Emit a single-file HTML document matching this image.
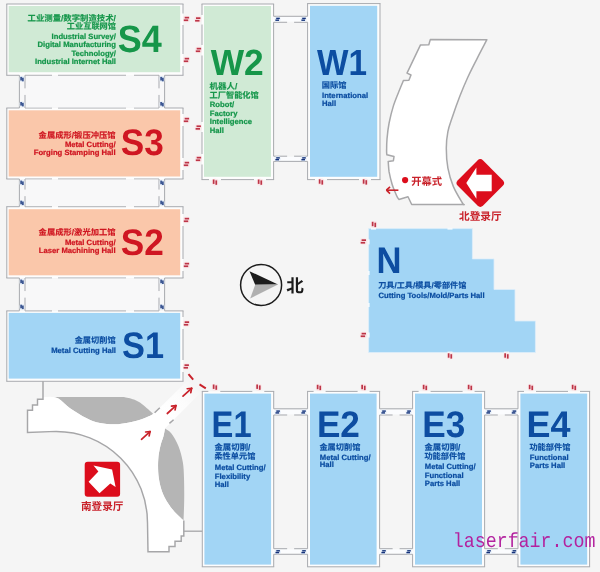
<!DOCTYPE html>
<html lang="zh"><head><meta charset="utf-8"><title>Exhibition hall floor plan</title>
<style>
html,body{margin:0;padding:0;background:#f5f5f5;overflow:hidden}
svg{display:block}
text{font-family:"Liberation Sans","Noto Sans CJK SC",sans-serif;font-weight:bold;text-rendering:geometricPrecision}
</style></head>
<body>
<svg width="600" height="572" viewBox="0 0 600 572">
<filter id="soft" x="-5%" y="-5%" width="110%" height="110%"><feGaussianBlur stdDeviation="0.55"/></filter>
<g filter="url(#soft)">
<rect x="-20" y="-20" width="640" height="612" fill="#f5f5f5"/>
<rect x="6.80" y="4.00" width="176.20" height="71.30" fill="#fdfdfd"/><rect x="8.70" y="6.00" width="171.50" height="66.20" fill="#d0ead5"/><line x1="6.33" y1="4.00" x2="183.47" y2="4.00" stroke="#a3a5ab" stroke-width="0.95" /><line x1="6.33" y1="75.30" x2="19.40" y2="75.30" stroke="#a3a5ab" stroke-width="0.95" /><line x1="25.00" y1="75.30" x2="52.00" y2="75.30" stroke="#a3a5ab" stroke-width="0.95" /><line x1="58.00" y1="75.30" x2="126.00" y2="75.30" stroke="#a3a5ab" stroke-width="0.95" /><line x1="134.00" y1="75.30" x2="159.00" y2="75.30" stroke="#a3a5ab" stroke-width="0.95" /><line x1="164.60" y1="75.30" x2="183.47" y2="75.30" stroke="#a3a5ab" stroke-width="0.95" /><line x1="6.80" y1="4.00" x2="6.80" y2="75.30" stroke="#a3a5ab" stroke-width="0.95" /><line x1="183.00" y1="4.00" x2="183.00" y2="13.50" stroke="#a3a5ab" stroke-width="0.95" /><line x1="183.00" y1="25.00" x2="183.00" y2="54.00" stroke="#a3a5ab" stroke-width="0.95" /><line x1="183.00" y1="66.00" x2="183.00" y2="75.30" stroke="#a3a5ab" stroke-width="0.95" />
<rect x="6.80" y="108.00" width="176.20" height="71.00" fill="#fdfdfd"/><rect x="8.70" y="110.30" width="171.50" height="66.20" fill="#fac7aa"/><line x1="6.33" y1="108.00" x2="19.40" y2="108.00" stroke="#a3a5ab" stroke-width="0.95" /><line x1="25.00" y1="108.00" x2="52.00" y2="108.00" stroke="#a3a5ab" stroke-width="0.95" /><line x1="58.00" y1="108.00" x2="126.00" y2="108.00" stroke="#a3a5ab" stroke-width="0.95" /><line x1="134.00" y1="108.00" x2="159.00" y2="108.00" stroke="#a3a5ab" stroke-width="0.95" /><line x1="164.60" y1="108.00" x2="183.47" y2="108.00" stroke="#a3a5ab" stroke-width="0.95" /><line x1="6.33" y1="179.00" x2="19.40" y2="179.00" stroke="#a3a5ab" stroke-width="0.95" /><line x1="25.00" y1="179.00" x2="52.00" y2="179.00" stroke="#a3a5ab" stroke-width="0.95" /><line x1="58.00" y1="179.00" x2="126.00" y2="179.00" stroke="#a3a5ab" stroke-width="0.95" /><line x1="134.00" y1="179.00" x2="159.00" y2="179.00" stroke="#a3a5ab" stroke-width="0.95" /><line x1="164.60" y1="179.00" x2="183.47" y2="179.00" stroke="#a3a5ab" stroke-width="0.95" /><line x1="6.80" y1="108.00" x2="6.80" y2="179.00" stroke="#a3a5ab" stroke-width="0.95" /><line x1="183.00" y1="108.00" x2="183.00" y2="114.00" stroke="#a3a5ab" stroke-width="0.95" /><line x1="183.00" y1="126.00" x2="183.00" y2="158.00" stroke="#a3a5ab" stroke-width="0.95" /><line x1="183.00" y1="170.00" x2="183.00" y2="179.00" stroke="#a3a5ab" stroke-width="0.95" />
<rect x="6.80" y="206.70" width="176.20" height="71.30" fill="#fdfdfd"/><rect x="8.70" y="209.20" width="171.50" height="66.10" fill="#fac7aa"/><line x1="6.33" y1="206.70" x2="19.40" y2="206.70" stroke="#a3a5ab" stroke-width="0.95" /><line x1="25.00" y1="206.70" x2="52.00" y2="206.70" stroke="#a3a5ab" stroke-width="0.95" /><line x1="58.00" y1="206.70" x2="126.00" y2="206.70" stroke="#a3a5ab" stroke-width="0.95" /><line x1="134.00" y1="206.70" x2="159.00" y2="206.70" stroke="#a3a5ab" stroke-width="0.95" /><line x1="164.60" y1="206.70" x2="183.47" y2="206.70" stroke="#a3a5ab" stroke-width="0.95" /><line x1="6.33" y1="278.00" x2="19.40" y2="278.00" stroke="#a3a5ab" stroke-width="0.95" /><line x1="25.00" y1="278.00" x2="52.00" y2="278.00" stroke="#a3a5ab" stroke-width="0.95" /><line x1="58.00" y1="278.00" x2="126.00" y2="278.00" stroke="#a3a5ab" stroke-width="0.95" /><line x1="134.00" y1="278.00" x2="159.00" y2="278.00" stroke="#a3a5ab" stroke-width="0.95" /><line x1="164.60" y1="278.00" x2="183.47" y2="278.00" stroke="#a3a5ab" stroke-width="0.95" /><line x1="6.80" y1="206.70" x2="6.80" y2="278.00" stroke="#a3a5ab" stroke-width="0.95" /><line x1="183.00" y1="206.70" x2="183.00" y2="214.00" stroke="#a3a5ab" stroke-width="0.95" /><line x1="183.00" y1="226.00" x2="183.00" y2="259.00" stroke="#a3a5ab" stroke-width="0.95" /><line x1="183.00" y1="271.00" x2="183.00" y2="278.00" stroke="#a3a5ab" stroke-width="0.95" />
<rect x="6.80" y="310.90" width="176.20" height="70.40" fill="#fdfdfd"/><rect x="8.70" y="312.90" width="171.50" height="65.70" fill="#a2d5f5"/><line x1="6.33" y1="310.90" x2="19.40" y2="310.90" stroke="#a3a5ab" stroke-width="0.95" /><line x1="25.00" y1="310.90" x2="52.00" y2="310.90" stroke="#a3a5ab" stroke-width="0.95" /><line x1="58.00" y1="310.90" x2="126.00" y2="310.90" stroke="#a3a5ab" stroke-width="0.95" /><line x1="134.00" y1="310.90" x2="159.00" y2="310.90" stroke="#a3a5ab" stroke-width="0.95" /><line x1="164.60" y1="310.90" x2="183.47" y2="310.90" stroke="#a3a5ab" stroke-width="0.95" /><line x1="6.33" y1="381.30" x2="183.47" y2="381.30" stroke="#a3a5ab" stroke-width="0.95" /><line x1="6.80" y1="310.90" x2="6.80" y2="381.30" stroke="#a3a5ab" stroke-width="0.95" /><line x1="183.00" y1="310.90" x2="183.00" y2="317.00" stroke="#a3a5ab" stroke-width="0.95" /><line x1="183.00" y1="329.00" x2="183.00" y2="360.00" stroke="#a3a5ab" stroke-width="0.95" /><line x1="183.00" y1="372.00" x2="183.00" y2="381.30" stroke="#a3a5ab" stroke-width="0.95" />
<rect x="19.4" y="75.90" width="145.2" height="31.50" fill="#f8f8f9"/>
<line x1="19.40" y1="75.30" x2="19.40" y2="108.00" stroke="#a3a5ab" stroke-width="0.95" />
<line x1="164.60" y1="75.30" x2="164.60" y2="108.00" stroke="#a3a5ab" stroke-width="0.95" />
<line x1="25.00" y1="75.30" x2="25.00" y2="88.35" stroke="#a3a5ab" stroke-width="0.95" /><line x1="25.00" y1="94.95" x2="25.00" y2="108.00" stroke="#a3a5ab" stroke-width="0.95" />
<line x1="159.00" y1="75.30" x2="159.00" y2="88.35" stroke="#a3a5ab" stroke-width="0.95" /><line x1="159.00" y1="94.95" x2="159.00" y2="108.00" stroke="#a3a5ab" stroke-width="0.95" />
<rect x="19.50" y="76.10" width="5" height="6" rx="2" fill="#e6eef8"/><g fill="#15337a"><rect x="20.40" y="76.90" width="1.4" height="3.6"/><rect x="22.20" y="77.70" width="1.4" height="3.6"/></g>
<rect x="19.50" y="101.20" width="5" height="6" rx="2" fill="#e6eef8"/><g fill="#15337a"><rect x="20.40" y="102.00" width="1.4" height="3.6"/><rect x="22.20" y="102.80" width="1.4" height="3.6"/></g>
<rect x="159.50" y="76.10" width="5" height="6" rx="2" fill="#e6eef8"/><g fill="#15337a"><rect x="160.40" y="76.90" width="1.4" height="3.6"/><rect x="162.20" y="77.70" width="1.4" height="3.6"/></g>
<rect x="159.50" y="101.20" width="5" height="6" rx="2" fill="#e6eef8"/><g fill="#15337a"><rect x="160.40" y="102.00" width="1.4" height="3.6"/><rect x="162.20" y="102.80" width="1.4" height="3.6"/></g>
<rect x="19.4" y="179.60" width="145.2" height="26.50" fill="#f8f8f9"/>
<line x1="19.40" y1="179.00" x2="19.40" y2="206.70" stroke="#a3a5ab" stroke-width="0.95" />
<line x1="164.60" y1="179.00" x2="164.60" y2="206.70" stroke="#a3a5ab" stroke-width="0.95" />
<line x1="25.00" y1="179.00" x2="25.00" y2="189.55" stroke="#a3a5ab" stroke-width="0.95" /><line x1="25.00" y1="196.15" x2="25.00" y2="206.70" stroke="#a3a5ab" stroke-width="0.95" />
<line x1="159.00" y1="179.00" x2="159.00" y2="189.55" stroke="#a3a5ab" stroke-width="0.95" /><line x1="159.00" y1="196.15" x2="159.00" y2="206.70" stroke="#a3a5ab" stroke-width="0.95" />
<rect x="19.50" y="179.80" width="5" height="6" rx="2" fill="#e6eef8"/><g fill="#15337a"><rect x="20.40" y="180.60" width="1.4" height="3.6"/><rect x="22.20" y="181.40" width="1.4" height="3.6"/></g>
<rect x="19.50" y="199.90" width="5" height="6" rx="2" fill="#e6eef8"/><g fill="#15337a"><rect x="20.40" y="200.70" width="1.4" height="3.6"/><rect x="22.20" y="201.50" width="1.4" height="3.6"/></g>
<rect x="159.50" y="179.80" width="5" height="6" rx="2" fill="#e6eef8"/><g fill="#15337a"><rect x="160.40" y="180.60" width="1.4" height="3.6"/><rect x="162.20" y="181.40" width="1.4" height="3.6"/></g>
<rect x="159.50" y="199.90" width="5" height="6" rx="2" fill="#e6eef8"/><g fill="#15337a"><rect x="160.40" y="200.70" width="1.4" height="3.6"/><rect x="162.20" y="201.50" width="1.4" height="3.6"/></g>
<rect x="19.4" y="278.60" width="145.2" height="31.50" fill="#f8f8f9"/>
<line x1="19.40" y1="278.00" x2="19.40" y2="310.70" stroke="#a3a5ab" stroke-width="0.95" />
<line x1="164.60" y1="278.00" x2="164.60" y2="310.70" stroke="#a3a5ab" stroke-width="0.95" />
<line x1="25.00" y1="278.00" x2="25.00" y2="291.05" stroke="#a3a5ab" stroke-width="0.95" /><line x1="25.00" y1="297.65" x2="25.00" y2="310.70" stroke="#a3a5ab" stroke-width="0.95" />
<line x1="159.00" y1="278.00" x2="159.00" y2="291.05" stroke="#a3a5ab" stroke-width="0.95" /><line x1="159.00" y1="297.65" x2="159.00" y2="310.70" stroke="#a3a5ab" stroke-width="0.95" />
<rect x="19.50" y="278.80" width="5" height="6" rx="2" fill="#e6eef8"/><g fill="#15337a"><rect x="20.40" y="279.60" width="1.4" height="3.6"/><rect x="22.20" y="280.40" width="1.4" height="3.6"/></g>
<rect x="19.50" y="303.90" width="5" height="6" rx="2" fill="#e6eef8"/><g fill="#15337a"><rect x="20.40" y="304.70" width="1.4" height="3.6"/><rect x="22.20" y="305.50" width="1.4" height="3.6"/></g>
<rect x="159.50" y="278.80" width="5" height="6" rx="2" fill="#e6eef8"/><g fill="#15337a"><rect x="160.40" y="279.60" width="1.4" height="3.6"/><rect x="162.20" y="280.40" width="1.4" height="3.6"/></g>
<rect x="159.50" y="303.90" width="5" height="6" rx="2" fill="#e6eef8"/><g fill="#15337a"><rect x="160.40" y="304.70" width="1.4" height="3.6"/><rect x="162.20" y="305.50" width="1.4" height="3.6"/></g>
<rect x="202.00" y="4.00" width="71.60" height="175.60" fill="#fdfdfd"/><rect x="204.00" y="6.00" width="67.00" height="170.80" fill="#d0ead5"/><line x1="201.53" y1="4.00" x2="274.08" y2="4.00" stroke="#a3a5ab" stroke-width="0.95" /><line x1="201.53" y1="179.60" x2="209.00" y2="179.60" stroke="#a3a5ab" stroke-width="0.95" /><line x1="221.00" y1="179.60" x2="254.00" y2="179.60" stroke="#a3a5ab" stroke-width="0.95" /><line x1="266.00" y1="179.60" x2="274.08" y2="179.60" stroke="#a3a5ab" stroke-width="0.95" /><line x1="202.00" y1="4.00" x2="202.00" y2="15.00" stroke="#a3a5ab" stroke-width="0.95" /><line x1="202.00" y1="24.50" x2="202.00" y2="45.00" stroke="#a3a5ab" stroke-width="0.95" /><line x1="202.00" y1="55.50" x2="202.00" y2="122.00" stroke="#a3a5ab" stroke-width="0.95" /><line x1="202.00" y1="132.00" x2="202.00" y2="154.00" stroke="#a3a5ab" stroke-width="0.95" /><line x1="202.00" y1="164.50" x2="202.00" y2="179.60" stroke="#a3a5ab" stroke-width="0.95" /><line x1="273.60" y1="4.00" x2="273.60" y2="16.30" stroke="#a3a5ab" stroke-width="0.95" /><line x1="273.60" y1="22.30" x2="273.60" y2="156.20" stroke="#a3a5ab" stroke-width="0.95" /><line x1="273.60" y1="161.40" x2="273.60" y2="179.60" stroke="#a3a5ab" stroke-width="0.95" />
<rect x="307.60" y="3.60" width="72.40" height="176.00" fill="#fdfdfd"/><rect x="310.00" y="5.80" width="67.20" height="171.00" fill="#a2d5f5"/><line x1="307.12" y1="3.60" x2="380.48" y2="3.60" stroke="#a3a5ab" stroke-width="0.95" /><line x1="307.12" y1="179.60" x2="315.00" y2="179.60" stroke="#a3a5ab" stroke-width="0.95" /><line x1="327.00" y1="179.60" x2="359.00" y2="179.60" stroke="#a3a5ab" stroke-width="0.95" /><line x1="371.00" y1="179.60" x2="380.48" y2="179.60" stroke="#a3a5ab" stroke-width="0.95" /><line x1="307.60" y1="3.60" x2="307.60" y2="16.30" stroke="#a3a5ab" stroke-width="0.95" /><line x1="307.60" y1="22.30" x2="307.60" y2="156.20" stroke="#a3a5ab" stroke-width="0.95" /><line x1="307.60" y1="161.40" x2="307.60" y2="179.60" stroke="#a3a5ab" stroke-width="0.95" /><line x1="380.00" y1="3.60" x2="380.00" y2="179.60" stroke="#a3a5ab" stroke-width="0.95" />
<rect x="202.30" y="391.40" width="71.40" height="175.40" fill="#fdfdfd"/><rect x="204.40" y="393.60" width="66.70" height="171.00" fill="#a2d5f5"/><line x1="201.83" y1="391.40" x2="208.30" y2="391.40" stroke="#a3a5ab" stroke-width="0.95" /><line x1="220.30" y1="391.40" x2="252.30" y2="391.40" stroke="#a3a5ab" stroke-width="0.95" /><line x1="264.30" y1="391.40" x2="274.18" y2="391.40" stroke="#a3a5ab" stroke-width="0.95" /><line x1="201.83" y1="566.80" x2="274.18" y2="566.80" stroke="#a3a5ab" stroke-width="0.95" /><line x1="202.30" y1="391.40" x2="202.30" y2="566.80" stroke="#a3a5ab" stroke-width="0.95" /><line x1="273.70" y1="391.40" x2="273.70" y2="408.80" stroke="#a3a5ab" stroke-width="0.95" /><line x1="273.70" y1="415.00" x2="273.70" y2="548.70" stroke="#a3a5ab" stroke-width="0.95" /><line x1="273.70" y1="554.30" x2="273.70" y2="566.80" stroke="#a3a5ab" stroke-width="0.95" />
<rect x="307.60" y="391.40" width="72.00" height="175.40" fill="#fdfdfd"/><rect x="310.00" y="393.60" width="66.60" height="171.00" fill="#a2d5f5"/><line x1="307.12" y1="391.40" x2="313.60" y2="391.40" stroke="#a3a5ab" stroke-width="0.95" /><line x1="325.60" y1="391.40" x2="357.60" y2="391.40" stroke="#a3a5ab" stroke-width="0.95" /><line x1="369.60" y1="391.40" x2="380.08" y2="391.40" stroke="#a3a5ab" stroke-width="0.95" /><line x1="307.12" y1="566.80" x2="380.08" y2="566.80" stroke="#a3a5ab" stroke-width="0.95" /><line x1="307.60" y1="391.40" x2="307.60" y2="408.80" stroke="#a3a5ab" stroke-width="0.95" /><line x1="307.60" y1="415.00" x2="307.60" y2="548.70" stroke="#a3a5ab" stroke-width="0.95" /><line x1="307.60" y1="554.30" x2="307.60" y2="566.80" stroke="#a3a5ab" stroke-width="0.95" /><line x1="379.60" y1="391.40" x2="379.60" y2="408.80" stroke="#a3a5ab" stroke-width="0.95" /><line x1="379.60" y1="415.00" x2="379.60" y2="548.70" stroke="#a3a5ab" stroke-width="0.95" /><line x1="379.60" y1="554.30" x2="379.60" y2="566.80" stroke="#a3a5ab" stroke-width="0.95" />
<rect x="412.60" y="391.40" width="72.00" height="175.40" fill="#fdfdfd"/><rect x="415.00" y="393.60" width="67.00" height="171.00" fill="#a2d5f5"/><line x1="412.12" y1="391.40" x2="418.60" y2="391.40" stroke="#a3a5ab" stroke-width="0.95" /><line x1="430.60" y1="391.40" x2="462.60" y2="391.40" stroke="#a3a5ab" stroke-width="0.95" /><line x1="474.60" y1="391.40" x2="485.08" y2="391.40" stroke="#a3a5ab" stroke-width="0.95" /><line x1="412.12" y1="566.80" x2="485.08" y2="566.80" stroke="#a3a5ab" stroke-width="0.95" /><line x1="412.60" y1="391.40" x2="412.60" y2="408.80" stroke="#a3a5ab" stroke-width="0.95" /><line x1="412.60" y1="415.00" x2="412.60" y2="548.70" stroke="#a3a5ab" stroke-width="0.95" /><line x1="412.60" y1="554.30" x2="412.60" y2="566.80" stroke="#a3a5ab" stroke-width="0.95" /><line x1="484.60" y1="391.40" x2="484.60" y2="408.80" stroke="#a3a5ab" stroke-width="0.95" /><line x1="484.60" y1="415.00" x2="484.60" y2="548.70" stroke="#a3a5ab" stroke-width="0.95" /><line x1="484.60" y1="554.30" x2="484.60" y2="566.80" stroke="#a3a5ab" stroke-width="0.95" />
<rect x="518.00" y="391.40" width="71.60" height="175.40" fill="#fdfdfd"/><rect x="520.40" y="393.60" width="66.80" height="171.00" fill="#a2d5f5"/><line x1="517.52" y1="391.40" x2="524.00" y2="391.40" stroke="#a3a5ab" stroke-width="0.95" /><line x1="536.00" y1="391.40" x2="568.00" y2="391.40" stroke="#a3a5ab" stroke-width="0.95" /><line x1="580.00" y1="391.40" x2="590.08" y2="391.40" stroke="#a3a5ab" stroke-width="0.95" /><line x1="517.52" y1="566.80" x2="590.08" y2="566.80" stroke="#a3a5ab" stroke-width="0.95" /><line x1="518.00" y1="391.40" x2="518.00" y2="408.80" stroke="#a3a5ab" stroke-width="0.95" /><line x1="518.00" y1="415.00" x2="518.00" y2="548.70" stroke="#a3a5ab" stroke-width="0.95" /><line x1="518.00" y1="554.30" x2="518.00" y2="566.80" stroke="#a3a5ab" stroke-width="0.95" /><line x1="589.60" y1="391.40" x2="589.60" y2="566.80" stroke="#a3a5ab" stroke-width="0.95" />
<rect x="271.60" y="16.90" width="38.00" height="4.80" fill="#fbfcfe"/><line x1="273.60" y1="16.30" x2="307.60" y2="16.30" stroke="#a3a5ab" stroke-width="0.95" /><line x1="273.60" y1="22.30" x2="287.10" y2="22.30" stroke="#a3a5ab" stroke-width="0.95" /><line x1="294.10" y1="22.30" x2="307.60" y2="22.30" stroke="#a3a5ab" stroke-width="0.95" /><rect x="274.60" y="16.80" width="6" height="5" rx="2" fill="#e6eef8"/><g fill="#15337a"><rect x="276.20" y="17.70" width="3.6" height="1.4"/><rect x="275.40" y="19.50" width="3.6" height="1.4"/></g><rect x="300.60" y="16.80" width="6" height="5" rx="2" fill="#e6eef8"/><g fill="#15337a"><rect x="302.20" y="17.70" width="3.6" height="1.4"/><rect x="301.40" y="19.50" width="3.6" height="1.4"/></g>
<rect x="271.60" y="156.80" width="38.00" height="4.00" fill="#fbfcfe"/><line x1="273.60" y1="161.40" x2="307.60" y2="161.40" stroke="#a3a5ab" stroke-width="0.95" /><line x1="273.60" y1="156.20" x2="287.10" y2="156.20" stroke="#a3a5ab" stroke-width="0.95" /><line x1="294.10" y1="156.20" x2="307.60" y2="156.20" stroke="#a3a5ab" stroke-width="0.95" /><rect x="274.60" y="156.30" width="6" height="5" rx="2" fill="#e6eef8"/><g fill="#15337a"><rect x="276.20" y="157.20" width="3.6" height="1.4"/><rect x="275.40" y="159.00" width="3.6" height="1.4"/></g><rect x="300.60" y="156.30" width="6" height="5" rx="2" fill="#e6eef8"/><g fill="#15337a"><rect x="302.20" y="157.20" width="3.6" height="1.4"/><rect x="301.40" y="159.00" width="3.6" height="1.4"/></g>
<rect x="271.70" y="409.40" width="37.90" height="5.00" fill="#fbfcfe"/><line x1="273.70" y1="408.80" x2="307.60" y2="408.80" stroke="#a3a5ab" stroke-width="0.95" /><line x1="273.70" y1="415.00" x2="287.15" y2="415.00" stroke="#a3a5ab" stroke-width="0.95" /><line x1="294.15" y1="415.00" x2="307.60" y2="415.00" stroke="#a3a5ab" stroke-width="0.95" /><rect x="274.70" y="409.50" width="6" height="5" rx="2" fill="#e6eef8"/><g fill="#15337a"><rect x="276.30" y="410.40" width="3.6" height="1.4"/><rect x="275.50" y="412.20" width="3.6" height="1.4"/></g><rect x="300.60" y="409.50" width="6" height="5" rx="2" fill="#e6eef8"/><g fill="#15337a"><rect x="302.20" y="410.40" width="3.6" height="1.4"/><rect x="301.40" y="412.20" width="3.6" height="1.4"/></g>
<rect x="271.70" y="549.30" width="37.90" height="4.40" fill="#fbfcfe"/><line x1="273.70" y1="554.30" x2="307.60" y2="554.30" stroke="#a3a5ab" stroke-width="0.95" /><line x1="273.70" y1="548.70" x2="287.15" y2="548.70" stroke="#a3a5ab" stroke-width="0.95" /><line x1="294.15" y1="548.70" x2="307.60" y2="548.70" stroke="#a3a5ab" stroke-width="0.95" /><rect x="274.70" y="549.20" width="6" height="5" rx="2" fill="#e6eef8"/><g fill="#15337a"><rect x="276.30" y="550.10" width="3.6" height="1.4"/><rect x="275.50" y="551.90" width="3.6" height="1.4"/></g><rect x="300.60" y="549.20" width="6" height="5" rx="2" fill="#e6eef8"/><g fill="#15337a"><rect x="302.20" y="550.10" width="3.6" height="1.4"/><rect x="301.40" y="551.90" width="3.6" height="1.4"/></g>
<rect x="377.60" y="409.40" width="37.00" height="5.00" fill="#fbfcfe"/><line x1="379.60" y1="408.80" x2="412.60" y2="408.80" stroke="#a3a5ab" stroke-width="0.95" /><line x1="379.60" y1="415.00" x2="392.60" y2="415.00" stroke="#a3a5ab" stroke-width="0.95" /><line x1="399.60" y1="415.00" x2="412.60" y2="415.00" stroke="#a3a5ab" stroke-width="0.95" /><rect x="380.60" y="409.50" width="6" height="5" rx="2" fill="#e6eef8"/><g fill="#15337a"><rect x="382.20" y="410.40" width="3.6" height="1.4"/><rect x="381.40" y="412.20" width="3.6" height="1.4"/></g><rect x="405.60" y="409.50" width="6" height="5" rx="2" fill="#e6eef8"/><g fill="#15337a"><rect x="407.20" y="410.40" width="3.6" height="1.4"/><rect x="406.40" y="412.20" width="3.6" height="1.4"/></g>
<rect x="377.60" y="549.30" width="37.00" height="4.40" fill="#fbfcfe"/><line x1="379.60" y1="554.30" x2="412.60" y2="554.30" stroke="#a3a5ab" stroke-width="0.95" /><line x1="379.60" y1="548.70" x2="392.60" y2="548.70" stroke="#a3a5ab" stroke-width="0.95" /><line x1="399.60" y1="548.70" x2="412.60" y2="548.70" stroke="#a3a5ab" stroke-width="0.95" /><rect x="380.60" y="549.20" width="6" height="5" rx="2" fill="#e6eef8"/><g fill="#15337a"><rect x="382.20" y="550.10" width="3.6" height="1.4"/><rect x="381.40" y="551.90" width="3.6" height="1.4"/></g><rect x="405.60" y="549.20" width="6" height="5" rx="2" fill="#e6eef8"/><g fill="#15337a"><rect x="407.20" y="550.10" width="3.6" height="1.4"/><rect x="406.40" y="551.90" width="3.6" height="1.4"/></g>
<rect x="482.60" y="409.40" width="37.40" height="5.00" fill="#fbfcfe"/><line x1="484.60" y1="408.80" x2="518.00" y2="408.80" stroke="#a3a5ab" stroke-width="0.95" /><line x1="484.60" y1="415.00" x2="497.80" y2="415.00" stroke="#a3a5ab" stroke-width="0.95" /><line x1="504.80" y1="415.00" x2="518.00" y2="415.00" stroke="#a3a5ab" stroke-width="0.95" /><rect x="485.60" y="409.50" width="6" height="5" rx="2" fill="#e6eef8"/><g fill="#15337a"><rect x="487.20" y="410.40" width="3.6" height="1.4"/><rect x="486.40" y="412.20" width="3.6" height="1.4"/></g><rect x="511.00" y="409.50" width="6" height="5" rx="2" fill="#e6eef8"/><g fill="#15337a"><rect x="512.60" y="410.40" width="3.6" height="1.4"/><rect x="511.80" y="412.20" width="3.6" height="1.4"/></g>
<rect x="482.60" y="549.30" width="37.40" height="4.40" fill="#fbfcfe"/><line x1="484.60" y1="554.30" x2="518.00" y2="554.30" stroke="#a3a5ab" stroke-width="0.95" /><line x1="484.60" y1="548.70" x2="497.80" y2="548.70" stroke="#a3a5ab" stroke-width="0.95" /><line x1="504.80" y1="548.70" x2="518.00" y2="548.70" stroke="#a3a5ab" stroke-width="0.95" /><rect x="485.60" y="549.20" width="6" height="5" rx="2" fill="#e6eef8"/><g fill="#15337a"><rect x="487.20" y="550.10" width="3.6" height="1.4"/><rect x="486.40" y="551.90" width="3.6" height="1.4"/></g><rect x="511.00" y="549.20" width="6" height="5" rx="2" fill="#e6eef8"/><g fill="#15337a"><rect x="512.60" y="550.10" width="3.6" height="1.4"/><rect x="511.80" y="551.90" width="3.6" height="1.4"/></g>
<path d="M368.6 228.6H472.4V258.9H494V289.5H515V321H535.4V352.5H368.6Z" fill="#a2d5f5" stroke="#ddeefa" stroke-width="0.8"/>
<rect x="447.5" y="227.8" width="5.0" height="1.8" fill="#f4fafe"/>
<rect x="371.0" y="227.8" width="5.0" height="1.8" fill="#f4fafe"/>
<rect x="367.8" y="239.4" width="1.8" height="5.0" fill="#f4fafe"/>
<rect x="367.8" y="332.5" width="1.8" height="5.0" fill="#f4fafe"/>
<rect x="447.5" y="351.6" width="5.0" height="1.8" fill="#f4fafe"/>
<rect x="504.0" y="351.6" width="5.0" height="1.8" fill="#f4fafe"/>
<rect x="367.8" y="271.0" width="1.8" height="4.0" fill="#f4fafe"/>
<rect x="367.8" y="303.0" width="1.8" height="4.0" fill="#f4fafe"/>
<path d="M430.3 39.6 L486.9 39.7 C485.3 42.8 480.4 52.0 477.2 58.3 C474.0 64.5 470.7 70.9 467.8 77.2 C464.9 83.5 462.5 89.4 459.9 96.1 C457.3 102.8 454.2 111.6 452.2 117.5 C450.2 123.4 448.9 126.5 447.9 131.6 C446.9 136.7 446.3 142.1 446.3 148.2 C446.3 154.3 446.7 161.8 447.9 168.2 C449.1 174.6 450.9 180.6 453.3 186.4 C455.7 192.2 460.6 200.0 462.4 203.0 C464.2 206.0 463.9 204.2 464.2 204.5 L411.7 204.5 L408 196.7 L398.9 199.5 C398.5 198.8 397.5 197.8 396.4 195.2 C395.3 192.6 393.3 188.1 392.1 184.2 C390.9 180.3 389.8 175.7 389.1 171.9 C388.5 168.1 388.4 163.2 388.2 161.5 L393.4 160.7 L394 156.6 L386.9 154.8 C386.8 154.2 386.6 153.8 386.6 151.2 C386.6 148.6 386.6 143.7 387.0 139.0 C387.4 134.3 388.0 128.5 389.1 123.0 C390.2 117.5 391.7 111.4 393.4 105.9 C395.1 100.4 397.8 94.2 399.5 90.0 C401.2 85.8 402.8 82.0 403.4 80.4 L408.9 80.2 L411 75 L407 73.1 L420.5 44.9 L428.8 44.7 Z" fill="#ffffff" stroke="#a8a8aa" stroke-width="1.5" stroke-linejoin="round"/>
<path d="M50.0 396.8 C51.4 397.1 55.0 396.7 58.3 398.6 C61.6 400.5 65.3 405.0 70.0 408.3 C74.7 411.6 81.7 415.9 86.7 418.3 C91.7 420.8 94.7 422.0 100.0 423.0 C105.3 424.0 112.2 424.6 118.3 424.2 C124.4 423.8 131.8 422.0 136.7 420.8 C141.6 419.6 144.9 418.0 147.7 416.8 C150.4 415.6 152.3 414.4 153.2 413.9 L153.2 413.9 C151.4 412.3 145.4 406.7 142.2 404.3 C139.0 401.9 137.0 400.8 134.0 399.6 C131.0 398.4 125.7 397.4 124.0 397.0 L50 396.8 Z" fill="#b5b5b5"/>
<path d="M165.0 428.5 C164.7 429.8 164.2 433.6 163.4 436.5 C162.6 439.4 161.3 442.1 160.4 446.0 C159.5 449.9 158.5 454.7 158.2 460.0 C157.9 465.3 158.0 472.3 158.8 478.0 C159.6 483.7 161.0 489.2 163.0 494.0 C165.0 498.8 168.0 503.4 170.6 507.0 C173.2 510.6 176.3 513.5 178.5 515.8 C180.7 518.1 182.8 519.8 183.6 520.6 L183.6 520.6 C183.7 517.2 184.1 507.1 184.2 500.0 C184.3 492.9 184.2 484.3 184.0 478.0 C183.8 471.7 183.7 467.3 182.8 462.0 C181.9 456.7 180.3 450.8 178.4 446.0 C176.5 441.2 173.6 436.3 171.4 433.4 C169.2 430.5 166.1 429.3 165.0 428.5 Z" fill="#b5b5b5"/>
<linearGradient id="cg" gradientUnits="userSpaceOnUse" x1="166" y1="414" x2="194" y2="386"><stop offset="0" stop-color="#ffffff"/><stop offset="0.55" stop-color="#fcfcfc"/><stop offset="1" stop-color="#f6f6f6"/></linearGradient>
<path d="M159.6 408 L187.6 380.4 L200.4 393 L173.4 420 Z" fill="url(#cg)"/>
<path d="M43 397.2 L50 396.8 L50.0 396.8 C51.4 397.1 55.0 396.7 58.3 398.6 C61.6 400.5 65.3 405.0 70.0 408.3 C74.7 411.6 81.7 415.9 86.7 418.3 C91.7 420.8 94.7 422.0 100.0 423.0 C105.3 424.0 112.2 424.6 118.3 424.2 C124.4 423.8 131.8 422.0 136.7 420.8 C141.6 419.6 144.9 418.0 147.7 416.8 C150.4 415.6 152.3 414.4 153.2 413.9 L159.6 408 L173.4 420 L165.0 428.5 C164.7 429.8 164.2 433.6 163.4 436.5 C162.6 439.4 161.3 442.1 160.4 446.0 C159.5 449.9 158.5 454.7 158.2 460.0 C157.9 465.3 158.0 472.3 158.8 478.0 C159.6 483.7 161.0 489.2 163.0 494.0 C165.0 498.8 168.0 503.4 170.6 507.0 C173.2 510.6 176.3 513.5 178.5 515.8 C180.7 518.1 182.8 519.8 183.6 520.6 L183.8 536 H181.2 V541.3 H175 V546.5 H169 V551.8 H148 V522.7 A91.3 91.3 0 0 0 56.2 431.4 L27.5 432.5 V410.3 H32.5 V405 H37.5 V399.2 H43 Z" fill="#ffffff"/>
<path d="M43 381.3 V399.2 H37.5 V405 H32.5 V410.3 H27.5 V432.5 L56.2 431.4 A91.3 91.3 0 0 1 147.5 522.7 L148 551.8 H169 V546.5 H175 V541.3 H181.2 V536 H183.8 V520.6" fill="none" stroke="#a6a6a8" stroke-width="1.45" stroke-linejoin="miter"/>
<line x1="183.80" y1="531.20" x2="202.30" y2="531.20" stroke="#a6a6a8" stroke-width="1.30" />
<line x1="154.60" y1="412.80" x2="159.80" y2="407.80" stroke="#a6a6a8" stroke-width="1.50" />
<line x1="169.40" y1="423.40" x2="173.60" y2="419.80" stroke="#a6a6a8" stroke-width="1.50" />
<line x1="141.50" y1="439.30" x2="150.00" y2="431.60" stroke="#c9222b" stroke-width="1.70" stroke-linecap="round"/><line x1="150.00" y1="431.60" x2="149.16" y2="435.92" stroke="#c9222b" stroke-width="1.70" stroke-linecap="round"/><line x1="150.00" y1="431.60" x2="145.62" y2="432.02" stroke="#c9222b" stroke-width="1.70" stroke-linecap="round"/>
<line x1="167.30" y1="413.50" x2="175.90" y2="405.60" stroke="#c9222b" stroke-width="1.70" stroke-linecap="round"/><line x1="175.90" y1="405.60" x2="175.09" y2="409.92" stroke="#c9222b" stroke-width="1.70" stroke-linecap="round"/><line x1="175.90" y1="405.60" x2="171.52" y2="406.05" stroke="#c9222b" stroke-width="1.70" stroke-linecap="round"/>
<line x1="183.00" y1="396.20" x2="191.60" y2="388.30" stroke="#c9222b" stroke-width="1.70" stroke-linecap="round"/><line x1="191.60" y1="388.30" x2="190.79" y2="392.62" stroke="#c9222b" stroke-width="1.70" stroke-linecap="round"/><line x1="191.60" y1="388.30" x2="187.22" y2="388.75" stroke="#c9222b" stroke-width="1.70" stroke-linecap="round"/>
<line x1="193.20" y1="379.70" x2="188.50" y2="374.20" stroke="#c9222b" stroke-width="2.00" />
<line x1="199.50" y1="384.40" x2="205.80" y2="388.30" stroke="#c9222b" stroke-width="2.00" />
<rect x="183.00" y="15.80" width="7" height="6.4" rx="2.4" fill="#fae6e8"/><g fill="#bd3447"><rect x="184.70" y="16.80" width="4.4" height="1.7"/><rect x="183.80" y="19.40" width="4.4" height="1.7"/></g>
<rect x="194.30" y="16.30" width="7" height="6.4" rx="2.4" fill="#fae6e8"/><g fill="#bd3447"><rect x="196.00" y="17.30" width="4.4" height="1.7"/><rect x="195.10" y="19.90" width="4.4" height="1.7"/></g>
<rect x="195.00" y="46.80" width="7" height="6.4" rx="2.4" fill="#fae6e8"/><g fill="#bd3447"><rect x="196.70" y="47.80" width="4.4" height="1.7"/><rect x="195.80" y="50.40" width="4.4" height="1.7"/></g>
<rect x="183.00" y="56.80" width="7" height="6.4" rx="2.4" fill="#fae6e8"/><g fill="#bd3447"><rect x="184.70" y="57.80" width="4.4" height="1.7"/><rect x="183.80" y="60.40" width="4.4" height="1.7"/></g>
<rect x="183.00" y="116.80" width="7" height="6.4" rx="2.4" fill="#fae6e8"/><g fill="#bd3447"><rect x="184.70" y="117.80" width="4.4" height="1.7"/><rect x="183.80" y="120.40" width="4.4" height="1.7"/></g>
<rect x="194.80" y="124.40" width="7" height="6.4" rx="2.4" fill="#fae6e8"/><g fill="#bd3447"><rect x="196.50" y="125.40" width="4.4" height="1.7"/><rect x="195.60" y="128.00" width="4.4" height="1.7"/></g>
<rect x="195.00" y="155.80" width="7" height="6.4" rx="2.4" fill="#fae6e8"/><g fill="#bd3447"><rect x="196.70" y="156.80" width="4.4" height="1.7"/><rect x="195.80" y="159.40" width="4.4" height="1.7"/></g>
<rect x="183.00" y="160.80" width="7" height="6.4" rx="2.4" fill="#fae6e8"/><g fill="#bd3447"><rect x="184.70" y="161.80" width="4.4" height="1.7"/><rect x="183.80" y="164.40" width="4.4" height="1.7"/></g>
<rect x="183.00" y="216.80" width="7" height="6.4" rx="2.4" fill="#fae6e8"/><g fill="#bd3447"><rect x="184.70" y="217.80" width="4.4" height="1.7"/><rect x="183.80" y="220.40" width="4.4" height="1.7"/></g>
<rect x="183.00" y="261.80" width="7" height="6.4" rx="2.4" fill="#fae6e8"/><g fill="#bd3447"><rect x="184.70" y="262.80" width="4.4" height="1.7"/><rect x="183.80" y="265.40" width="4.4" height="1.7"/></g>
<rect x="183.00" y="320.30" width="7" height="6.4" rx="2.4" fill="#fae6e8"/><g fill="#bd3447"><rect x="184.70" y="321.30" width="4.4" height="1.7"/><rect x="183.80" y="323.90" width="4.4" height="1.7"/></g>
<rect x="182.80" y="363.30" width="7" height="6.4" rx="2.4" fill="#fae6e8"/><g fill="#bd3447"><rect x="184.50" y="364.30" width="4.4" height="1.7"/><rect x="183.60" y="366.90" width="4.4" height="1.7"/></g>
<rect x="359.90" y="238.30" width="7" height="6.4" rx="2.4" fill="#fae6e8"/><g fill="#bd3447"><rect x="361.60" y="239.30" width="4.4" height="1.7"/><rect x="360.70" y="241.90" width="4.4" height="1.7"/></g>
<rect x="359.90" y="331.80" width="7" height="6.4" rx="2.4" fill="#fae6e8"/><g fill="#bd3447"><rect x="361.60" y="332.80" width="4.4" height="1.7"/><rect x="360.70" y="335.40" width="4.4" height="1.7"/></g>
<rect x="211.80" y="178.70" width="6.4" height="7" rx="2.4" fill="#fae6e8"/><g fill="#bd3447"><rect x="212.80" y="179.50" width="1.7" height="4.4"/><rect x="215.40" y="180.40" width="1.7" height="4.4"/></g>
<rect x="256.80" y="178.70" width="6.4" height="7" rx="2.4" fill="#fae6e8"/><g fill="#bd3447"><rect x="257.80" y="179.50" width="1.7" height="4.4"/><rect x="260.40" y="180.40" width="1.7" height="4.4"/></g>
<rect x="317.80" y="178.50" width="6.4" height="7" rx="2.4" fill="#fae6e8"/><g fill="#bd3447"><rect x="318.80" y="179.30" width="1.7" height="4.4"/><rect x="321.40" y="180.20" width="1.7" height="4.4"/></g>
<rect x="361.80" y="178.50" width="6.4" height="7" rx="2.4" fill="#fae6e8"/><g fill="#bd3447"><rect x="362.80" y="179.30" width="1.7" height="4.4"/><rect x="365.40" y="180.20" width="1.7" height="4.4"/></g>
<rect x="370.80" y="221.00" width="6.4" height="7" rx="2.4" fill="#fae6e8"/><g fill="#bd3447"><rect x="371.80" y="221.80" width="1.7" height="4.4"/><rect x="374.40" y="222.70" width="1.7" height="4.4"/></g>
<rect x="446.80" y="352.50" width="6.4" height="7" rx="2.4" fill="#fae6e8"/><g fill="#bd3447"><rect x="447.80" y="353.30" width="1.7" height="4.4"/><rect x="450.40" y="354.20" width="1.7" height="4.4"/></g>
<rect x="503.30" y="352.50" width="6.4" height="7" rx="2.4" fill="#fae6e8"/><g fill="#bd3447"><rect x="504.30" y="353.30" width="1.7" height="4.4"/><rect x="506.90" y="354.20" width="1.7" height="4.4"/></g>
<rect x="211.80" y="383.70" width="6.4" height="7" rx="2.4" fill="#fae6e8"/><g fill="#bd3447"><rect x="212.80" y="384.50" width="1.7" height="4.4"/><rect x="215.40" y="385.40" width="1.7" height="4.4"/></g>
<rect x="255.30" y="383.70" width="6.4" height="7" rx="2.4" fill="#fae6e8"/><g fill="#bd3447"><rect x="256.30" y="384.50" width="1.7" height="4.4"/><rect x="258.90" y="385.40" width="1.7" height="4.4"/></g>
<rect x="315.80" y="384.00" width="6.4" height="7" rx="2.4" fill="#fae6e8"/><g fill="#bd3447"><rect x="316.80" y="384.80" width="1.7" height="4.4"/><rect x="319.40" y="385.70" width="1.7" height="4.4"/></g>
<rect x="360.30" y="384.00" width="6.4" height="7" rx="2.4" fill="#fae6e8"/><g fill="#bd3447"><rect x="361.30" y="384.80" width="1.7" height="4.4"/><rect x="363.90" y="385.70" width="1.7" height="4.4"/></g>
<rect x="421.80" y="384.00" width="6.4" height="7" rx="2.4" fill="#fae6e8"/><g fill="#bd3447"><rect x="422.80" y="384.80" width="1.7" height="4.4"/><rect x="425.40" y="385.70" width="1.7" height="4.4"/></g>
<rect x="466.80" y="384.00" width="6.4" height="7" rx="2.4" fill="#fae6e8"/><g fill="#bd3447"><rect x="467.80" y="384.80" width="1.7" height="4.4"/><rect x="470.40" y="385.70" width="1.7" height="4.4"/></g>
<rect x="527.80" y="384.00" width="6.4" height="7" rx="2.4" fill="#fae6e8"/><g fill="#bd3447"><rect x="528.80" y="384.80" width="1.7" height="4.4"/><rect x="531.40" y="385.70" width="1.7" height="4.4"/></g>
<rect x="570.80" y="384.00" width="6.4" height="7" rx="2.4" fill="#fae6e8"/><g fill="#bd3447"><rect x="571.80" y="384.80" width="1.7" height="4.4"/><rect x="574.40" y="385.70" width="1.7" height="4.4"/></g>
<circle cx="261.1" cy="285" r="20.5" fill="none" stroke="#1c1c1c" stroke-width="1.5"/>
<path d="M249.5 271.2 L278 284.4 L255.2 284.7 Z" fill="#1a1a1a"/>
<path d="M255.2 284.7 L278 284.4 L250.2 298.5 Z" fill="#b0b0b0"/>
<text x="286.30" y="291.90" font-size="17.6" fill="#1a1a1a">北</text>
<g transform="translate(480.3 183) rotate(45)"><rect x="-17.9" y="-17.9" width="35.8" height="35.8" rx="4" fill="#dc0f1c"/></g>
<path d="M466.3 183 L476.4 167.4 V174.8 H491.7 V191.2 H476.4 V198.8 Z" fill="#ffffff"/>
<text x="459.00" y="219.90" font-size="10.65" fill="#c9222b">北登录厅</text>
<rect x="84.7" y="461.8" width="35.4" height="35" rx="3" fill="#dc0f1c"/>
<path d="M93.5 465.6 L112.1 469.5 L115.6 487 L110.3 483.5 L99.5 493.3 L88.6 481.7 L98.4 471.6 Z" fill="#ffffff"/>
<text x="81.00" y="509.90" font-size="10.6" fill="#c9222b">南登录厅</text>
<circle cx="405.1" cy="180.1" r="3.1" fill="#dc0f1c"/>
<text x="411.20" y="184.50" font-size="10.3" fill="#c9222b">开幕式</text>
<line x1="386.40" y1="190.20" x2="398.40" y2="190.20" stroke="#c9222b" stroke-width="1.60" /><line x1="386.40" y1="190.20" x2="390.00" y2="186.80" stroke="#c9222b" stroke-width="1.60" /><line x1="386.40" y1="190.20" x2="390.00" y2="193.60" stroke="#c9222b" stroke-width="1.60" />
<text x="27.56" y="20.70" font-size="8.19" fill="#14964a" stroke="#14964a" stroke-width="0.15" textLength="88.4" lengthAdjust="spacingAndGlyphs">工业测量/数字制造技术/</text>
<text x="66.87" y="29.30" font-size="8.19" fill="#14964a" stroke="#14964a" stroke-width="0.15" textLength="49.1" lengthAdjust="spacingAndGlyphs">工业互联网馆</text>
<text x="116.00" y="38.80" font-size="7.68" fill="#14964a" stroke="#14964a" stroke-width="0.22" text-anchor="end" >Industrial Survey/</text>
<text x="116.00" y="47.20" font-size="7.68" fill="#14964a" stroke="#14964a" stroke-width="0.22" text-anchor="end" >Digital Manufacturing</text>
<text x="116.00" y="55.50" font-size="7.68" fill="#14964a" stroke="#14964a" stroke-width="0.22" text-anchor="end" >Technology/</text>
<text x="116.00" y="63.90" font-size="7.68" fill="#14964a" stroke="#14964a" stroke-width="0.22" text-anchor="end" >Industrial Internet Hall</text>
<text x="117.82" y="51.80" font-size="38" fill="#14964a" textLength="44" lengthAdjust="spacingAndGlyphs">S4</text>
<text x="38.63" y="137.60" font-size="8.19" fill="#cf1520" stroke="#cf1520" stroke-width="0.15" textLength="77" lengthAdjust="spacingAndGlyphs">金属成形/锻压冲压馆</text>
<text x="115.60" y="146.70" font-size="7.68" fill="#cf1520" stroke="#cf1520" stroke-width="0.22" text-anchor="end" >Metal Cutting/</text>
<text x="115.60" y="155.10" font-size="7.68" fill="#cf1520" stroke="#cf1520" stroke-width="0.22" text-anchor="end" >Forging Stamping Hall</text>
<text x="120.83" y="154.90" font-size="37" fill="#cf1520" textLength="43" lengthAdjust="spacingAndGlyphs">S3</text>
<text x="38.63" y="235.40" font-size="8.19" fill="#cf1520" stroke="#cf1520" stroke-width="0.15" textLength="77" lengthAdjust="spacingAndGlyphs">金属成形/激光加工馆</text>
<text x="115.60" y="244.50" font-size="7.68" fill="#cf1520" stroke="#cf1520" stroke-width="0.22" text-anchor="end" >Metal Cutting/</text>
<text x="115.60" y="252.90" font-size="7.68" fill="#cf1520" stroke="#cf1520" stroke-width="0.22" text-anchor="end" >Laser Machining Hall</text>
<text x="120.85" y="254.50" font-size="37" fill="#cf1520" textLength="43" lengthAdjust="spacingAndGlyphs">S2</text>
<text x="74.66" y="343.20" font-size="8.19" fill="#0b4da1" stroke="#0b4da1" stroke-width="0.15" textLength="40.95" lengthAdjust="spacingAndGlyphs">金属切削馆</text>
<text x="116.00" y="352.90" font-size="7.68" fill="#0b4da1" stroke="#0b4da1" stroke-width="0.22" text-anchor="end" >Metal Cutting Hall</text>
<text x="121.99" y="358.40" font-size="37" fill="#0b4da1" textLength="42" lengthAdjust="spacingAndGlyphs">S1</text>
<text x="210.77" y="75.40" font-size="36.5" fill="#14964a" textLength="53" lengthAdjust="spacingAndGlyphs">W2</text>
<text x="209.60" y="88.60" font-size="8.19" fill="#14964a" stroke="#14964a" stroke-width="0.15" textLength="27.8" lengthAdjust="spacingAndGlyphs">机器人/</text>
<text x="209.60" y="98.20" font-size="8.19" fill="#14964a" stroke="#14964a" stroke-width="0.15" textLength="49.1" lengthAdjust="spacingAndGlyphs">工厂智能化馆</text>
<text x="209.80" y="107.00" font-size="7.68" fill="#14964a" stroke="#14964a" stroke-width="0.22" text-anchor="start" >Robot/</text>
<text x="209.80" y="115.50" font-size="7.68" fill="#14964a" stroke="#14964a" stroke-width="0.22" text-anchor="start" >Factory</text>
<text x="209.80" y="124.10" font-size="7.68" fill="#14964a" stroke="#14964a" stroke-width="0.22" text-anchor="start" >Intelligence</text>
<text x="209.80" y="132.60" font-size="7.68" fill="#14964a" stroke="#14964a" stroke-width="0.22" text-anchor="start" >Hall</text>
<text x="317.09" y="75.40" font-size="36.5" fill="#0b4da1" textLength="50" lengthAdjust="spacingAndGlyphs">W1</text>
<text x="321.80" y="88.40" font-size="8.19" fill="#0b4da1" stroke="#0b4da1" stroke-width="0.15" textLength="24.6" lengthAdjust="spacingAndGlyphs">国际馆</text>
<text x="322.00" y="97.60" font-size="7.68" fill="#0b4da1" stroke="#0b4da1" stroke-width="0.22" text-anchor="start" >International</text>
<text x="322.00" y="105.90" font-size="7.68" fill="#0b4da1" stroke="#0b4da1" stroke-width="0.22" text-anchor="start" >Hall</text>
<text x="376.40" y="273.00" font-size="37" fill="#0b4da1" textLength="25" lengthAdjust="spacingAndGlyphs">N</text>
<text x="378.20" y="288.20" font-size="7.87" fill="#0b4da1" stroke="#0b4da1" stroke-width="0.14" textLength="88.1" lengthAdjust="spacingAndGlyphs">刀具/工具/模具/零部件馆</text>
<text x="378.60" y="297.70" font-size="7.65" fill="#0b4da1" stroke="#0b4da1" stroke-width="0.22" text-anchor="start" >Cutting Tools/Mold/Parts Hall</text>
<text x="211.59" y="437.00" font-size="37" fill="#0b4da1" textLength="40" lengthAdjust="spacingAndGlyphs">E1</text>
<text x="214.40" y="449.60" font-size="8.19" fill="#0b4da1" stroke="#0b4da1" stroke-width="0.15" textLength="36" lengthAdjust="spacingAndGlyphs">金属切削/</text>
<text x="214.40" y="458.90" font-size="8.19" fill="#0b4da1" stroke="#0b4da1" stroke-width="0.15" textLength="40.95" lengthAdjust="spacingAndGlyphs">柔性单元馆</text>
<text x="214.80" y="470.20" font-size="7.68" fill="#0b4da1" stroke="#0b4da1" stroke-width="0.22" text-anchor="start" >Metal Cutting/</text>
<text x="214.80" y="478.60" font-size="7.68" fill="#0b4da1" stroke="#0b4da1" stroke-width="0.22" text-anchor="start" >Flexibility</text>
<text x="214.80" y="486.70" font-size="7.68" fill="#0b4da1" stroke="#0b4da1" stroke-width="0.22" text-anchor="start" >Hall</text>
<text x="316.91" y="437.00" font-size="37" fill="#0b4da1" textLength="43" lengthAdjust="spacingAndGlyphs">E2</text>
<text x="319.40" y="449.50" font-size="8.19" fill="#0b4da1" stroke="#0b4da1" stroke-width="0.15" textLength="40.95" lengthAdjust="spacingAndGlyphs">金属切削馆</text>
<text x="319.80" y="459.60" font-size="7.68" fill="#0b4da1" stroke="#0b4da1" stroke-width="0.22" text-anchor="start" >Metal Cutting/</text>
<text x="319.80" y="467.30" font-size="7.68" fill="#0b4da1" stroke="#0b4da1" stroke-width="0.22" text-anchor="start" >Hall</text>
<text x="422.23" y="437.00" font-size="37" fill="#0b4da1" textLength="43" lengthAdjust="spacingAndGlyphs">E3</text>
<text x="424.40" y="449.50" font-size="8.19" fill="#0b4da1" stroke="#0b4da1" stroke-width="0.15" textLength="36" lengthAdjust="spacingAndGlyphs">金属切削/</text>
<text x="424.40" y="458.90" font-size="8.19" fill="#0b4da1" stroke="#0b4da1" stroke-width="0.15" textLength="40.95" lengthAdjust="spacingAndGlyphs">功能部件馆</text>
<text x="424.80" y="469.00" font-size="7.68" fill="#0b4da1" stroke="#0b4da1" stroke-width="0.22" text-anchor="start" >Metal Cutting/</text>
<text x="424.80" y="477.50" font-size="7.68" fill="#0b4da1" stroke="#0b4da1" stroke-width="0.22" text-anchor="start" >Functional</text>
<text x="424.80" y="485.80" font-size="7.68" fill="#0b4da1" stroke="#0b4da1" stroke-width="0.22" text-anchor="start" >Parts Hall</text>
<text x="526.56" y="437.00" font-size="37" fill="#0b4da1" textLength="44" lengthAdjust="spacingAndGlyphs">E4</text>
<text x="529.40" y="449.50" font-size="8.19" fill="#0b4da1" stroke="#0b4da1" stroke-width="0.15" textLength="40.95" lengthAdjust="spacingAndGlyphs">功能部件馆</text>
<text x="529.80" y="459.60" font-size="7.68" fill="#0b4da1" stroke="#0b4da1" stroke-width="0.22" text-anchor="start" >Functional</text>
<text x="529.80" y="467.50" font-size="7.68" fill="#0b4da1" stroke="#0b4da1" stroke-width="0.22" text-anchor="start" >Parts Hall</text>
<text x="452.8" y="546.5" font-size="20.5" fill="#b3239f" style="font-family:'Liberation Mono',monospace;font-weight:normal" textLength="142.6" lengthAdjust="spacingAndGlyphs">laserfair.com</text>
</g>
</svg>
</body></html>
